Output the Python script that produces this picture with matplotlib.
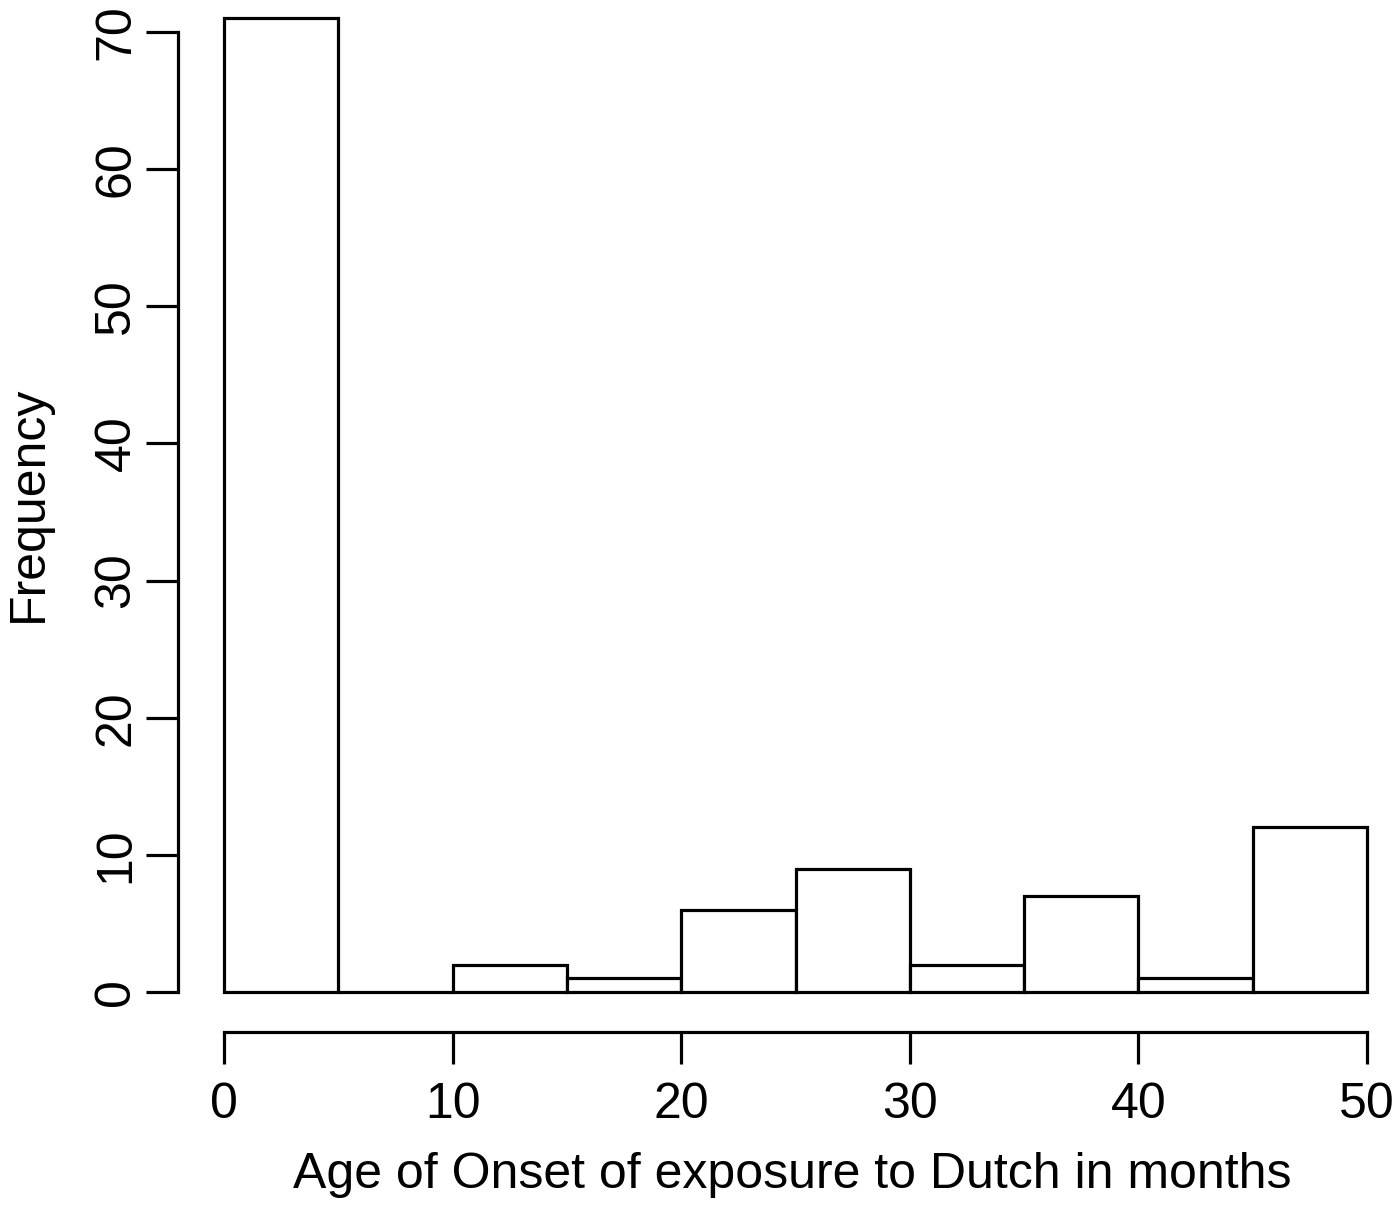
import numpy as np
import matplotlib
matplotlib.use("Agg")
import matplotlib.pyplot as plt

# histogram bins (months) and counts
bin_edges = [0, 5, 10, 15, 20, 25, 30, 35, 40, 45, 50]
counts = [71, 0, 2, 1, 6, 9, 2, 7, 1, 12]
x_ticks = [0, 10, 20, 30, 40, 50]
y_ticks = [0, 10, 20, 30, 40, 50, 60, 70]

plt.rcParams['font.family'] = ['Liberation Sans', 'DejaVu Sans']

W, H = 1400, 1208
fig = plt.figure(figsize=(W / 100, H / 100), dpi=100)

# axes placed in pixel coordinates
px_per_x = (1367 - 224) / 50.0
px_per_y = (992 - 32) / 70.0
x0, x1 = -2.0, 52.0
left = 224 + x0 * px_per_x
right = 224 + x1 * px_per_x
ybot_px, ytop_px = 1032, 5
y0 = -(ybot_px - 992) / px_per_y
y1 = (992 - ytop_px) / px_per_y
ax = fig.add_axes([left / W, 1 - ybot_px / H, (right - left) / W, (ybot_px - ytop_px) / H])
ax.set_xlim(x0, x1)
ax.set_ylim(y0, y1)

lw = 2.3
edges = np.array(bin_edges)
ax.bar(edges[:-1], counts, width=np.diff(edges), align='edge',
       facecolor='white', edgecolor='black', linewidth=lw, clip_on=False)

for s in ['top', 'right']:
    ax.spines[s].set_visible(False)
ax.spines['left'].set_bounds(0, 70)
ax.spines['bottom'].set_bounds(0, 50)
for s in ['left', 'bottom']:
    ax.spines[s].set_linewidth(lw)

ax.set_xticks(x_ticks)
ax.set_yticks(y_ticks)
ax.set_yticklabels([str(v) for v in y_ticks], rotation=90, va='center')
ax.tick_params(axis='both', direction='out', length=23, width=lw, labelsize=36)
ax.tick_params(axis='x', pad=13)
ax.tick_params(axis='y', pad=5)

ax.set_xlabel("Age of Onset of exposure to Dutch in months", fontsize=36, labelpad=17)
ax.set_ylabel("Frequency", fontsize=36, labelpad=30)
ax.xaxis.label.set_x((792 - left) / (right - left))
ax.yaxis.label.set_y((ybot_px - 504) / (ybot_px - ytop_px))

fig.savefig("out.png", dpi=100)
